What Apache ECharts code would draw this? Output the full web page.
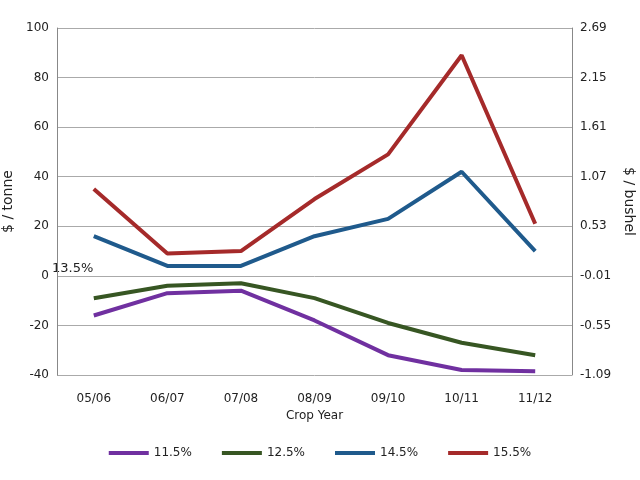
<!DOCTYPE html>
<html>
<head>
<meta charset="utf-8">
<script src="https://cdn.jsdelivr.net/npm/echarts@6/dist/echarts.min.js"></script>
<style>html,body{margin:0;padding:0;background:#fff}#chart{width:640px;height:480px}</style>
</head>
<body>
<div id="chart"></div>
<script>
const cropYears = ['05/06', '06/07', '07/08', '08/09', '09/10', '10/11', '11/12'];
const p115 = [-16, -7, -6, -18, -32, -38, -38.5];
const p125 = [-9, -4, -3, -9, -19, -27, -32];
const p145 = [16, 4, 4, 16, 23, 42, 10];
const p155 = [35, 9, 10, 31, 49, 89, 21];
const bushelLabels = ['-1.09', '-0.55', '-0.01', '0.53', '1.07', '1.61', '2.15', '2.69'];

const chart = echarts.init(document.getElementById('chart'));
const font = 'DejaVu Sans';
const line = (name, data, color) => ({
  name, type: 'line', data, symbol: 'none',
  lineStyle: { color, width: 4 }, itemStyle: { color }
});
chart.setOption({
  textStyle: { fontFamily: font },
  grid: { left: 57, right: 68, top: 28, bottom: 105, outerBoundsMode: 'none' },
  legend: {
    bottom: 16, left: 'center', itemWidth: 40, itemHeight: 4, itemGap: 30,
    icon: 'rect', textStyle: { fontSize: 12, color: '#222' },
    data: ['11.5%', '12.5%', '14.5%', '15.5%']
  },
  xAxis: {
    type: 'category', data: cropYears, boundaryGap: true,
    name: 'Crop Year', nameLocation: 'middle', nameGap: 28,
    nameTextStyle: { fontSize: 12, color: '#222' },
    axisLine: { show: false }, axisTick: { show: false },
    axisLabel: { fontSize: 12, color: '#222', margin: 18 }
  },
  yAxis: [{
    type: 'value', min: -40, max: 100, interval: 20,
    name: '$ / tonne', nameLocation: 'middle', nameGap: 34,
    nameTextStyle: { fontSize: 14, color: '#222' },
    axisLine: { show: true, lineStyle: { color: '#888' } },
    axisTick: { show: false },
    axisLabel: { fontSize: 12, color: '#222' },
    splitLine: { lineStyle: { color: '#aaa' } }
  }, {
    type: 'value', min: -40, max: 100, interval: 20, position: 'right',
    name: '$ / bushel', nameLocation: 'middle', nameGap: 46, nameRotate: -90,
    nameTextStyle: { fontSize: 14, color: '#222' },
    axisLine: { show: true, lineStyle: { color: '#888' } },
    axisTick: { show: false },
    axisLabel: { fontSize: 12, color: '#222',
      formatter: v => bushelLabels[Math.round((v + 40) / 20)] },
    splitLine: { show: false }
  }],
  series: [
    line('11.5%', p115, '#7030a0'),
    line('12.5%', p125, '#375623'),
    line('14.5%', p145, '#1f5a8c'),
    line('15.5%', p155, '#a52a2a')
  ],
  graphic: [{ type: 'text', left: 52, top: 262, style: { text: '13.5%', fontSize: 13, fill: '#222', fontFamily: font } }]
});
</script>
</body>
</html>
